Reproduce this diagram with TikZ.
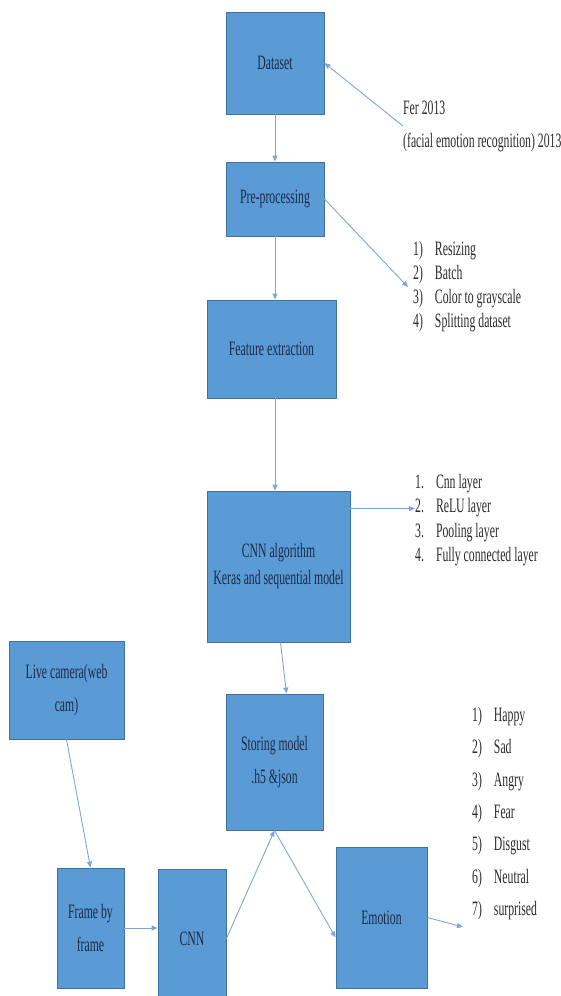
\documentclass[tikz,border=0pt]{standalone}
\usepackage{fontspec}
\setmainfont{Liberation Serif}[FakeStretch=0.575]
\usetikzlibrary{arrows.meta,positioning}
\definecolor{boxFill}{HTML}{5B9BD5}
\definecolor{boxLine}{HTML}{41719C}
\definecolor{boxText}{HTML}{1B2A47}
\definecolor{arrowBlue}{HTML}{7EA6D6}
\definecolor{noteText}{HTML}{2B2B2B}

\begin{document}
\begin{tikzpicture}[x=1bp,y=-1bp,
      font=\fontsize{20.5}{33}\selectfont,
      blk/.style={draw=boxLine,fill=boxFill,text=boxText,line width=0.8bp,
                  align=center,inner sep=2bp},
      arr/.style={draw=arrowBlue,line width=0.9bp,-{Triangle[length=6bp,width=5bp]}},
      note/.style={text=noteText,align=left,inner sep=0pt},
      steps/.style={text=noteText,inner sep=0pt,anchor=west}
    ]
    \useasboundingbox (0,0) rectangle (561,996);

    % training pipeline
    \node[blk,minimum width=98bp,minimum height=102bp]  (dataset) at (275,63)    {Dataset};
    \node[blk,minimum width=98bp,minimum height=74bp]   (pre)     at (275,199)   {Pre-processing};
    \node[blk,minimum width=129bp,minimum height=98bp]  (feat)    at (271.5,349) {Feature extraction};
    \node[blk,minimum width=143bp,minimum height=151bp,font=\fontsize{20.5}{27}\selectfont]
      (cnnalgo) at (278.5,566.5) {CNN algorithm\\Keras and sequential model};
    \node[blk,minimum width=97bp,minimum height=136bp]  (store)   at (274.5,762) {Storing model\\.h5 \&json};

    % live detection
    \node[blk,minimum width=115bp,minimum height=98bp]  (live)    at (66.5,690)  {Live camera(web\\cam)};
    \node[blk,minimum width=67bp,minimum height=120bp]  (frame)   at (90.5,928)  {Frame by\\frame};
    \node[blk,minimum width=68bp,minimum height=139bp]  (cnn)     at (192,938.5) {CNN};
    \node[blk,minimum width=91bp,minimum height=141bp]  (emotion) at (381.5,917.5) {Emotion};

    % side notes
    \node[note,anchor=west] (fer) at (403,126) {Fer 2013\\(facial emotion recognition) 2013};
    \node[steps,font=\fontsize{20.5}{24}\selectfont] (prelist) at (413,287)
      {\begin{tabular}{@{}l@{\hspace{12bp}}l@{}}
        1) & Resizing\\ 2) & Batch\\ 3) & Color to grayscale\\ 4) & Splitting dataset
      \end{tabular}};
    \node[steps,font=\fontsize{20.5}{24.7}\selectfont] (cnnlist) at (415,520)
      {\begin{tabular}{@{}l@{\hspace{12bp}}l@{}}
        1. & Cnn layer\\ 2. & ReLU layer\\ 3. & Pooling layer\\ 4. & Fully connected layer
      \end{tabular}};
    \node[steps,font=\fontsize{20.5}{32.5}\selectfont] (emolist) at (472,812)
      {\begin{tabular}{@{}l@{\hspace{12bp}}l@{}}
        1) & Happy\\ 2) & Sad\\ 3) & Angry\\ 4) & Fear\\ 5) & Disgust\\ 6) & Neutral\\ 7) & surprised
      \end{tabular}};
    \coordinate (emoin) at (463,927);

    \draw[arr] (fer.west) -- (dataset.east);
    \draw[arr] (dataset.south) -- (pre.north);
    \draw[arr] (pre.east) -- ([xshift=-5bp]prelist.west);
    \draw[arr] (pre.south) -- (pre.south |- feat.north);
    \draw[arr] (pre.south |- feat.south) -- (pre.south |- cnnalgo.north);
    \draw[arr] ([yshift=-18bp]cnnalgo.north east) -- ([yshift=-18bp]cnnalgo.north east -| cnnlist.west);
    \draw[arr] ([xshift=2bp]cnnalgo.south) -- ([xshift=12bp]store.north);

    \draw[arr] (live.south) -- (frame.north);
    \draw[arr] (frame.east) -- (frame.east -| cnn.west);
    \draw[arr] (cnn.east) -- (store.south);
    \draw[arr] (store.south) -- ([yshift=-20bp]emotion.west);
    \draw[arr] (emotion.east) -- (emoin);
  \end{tikzpicture}
\end{document}
